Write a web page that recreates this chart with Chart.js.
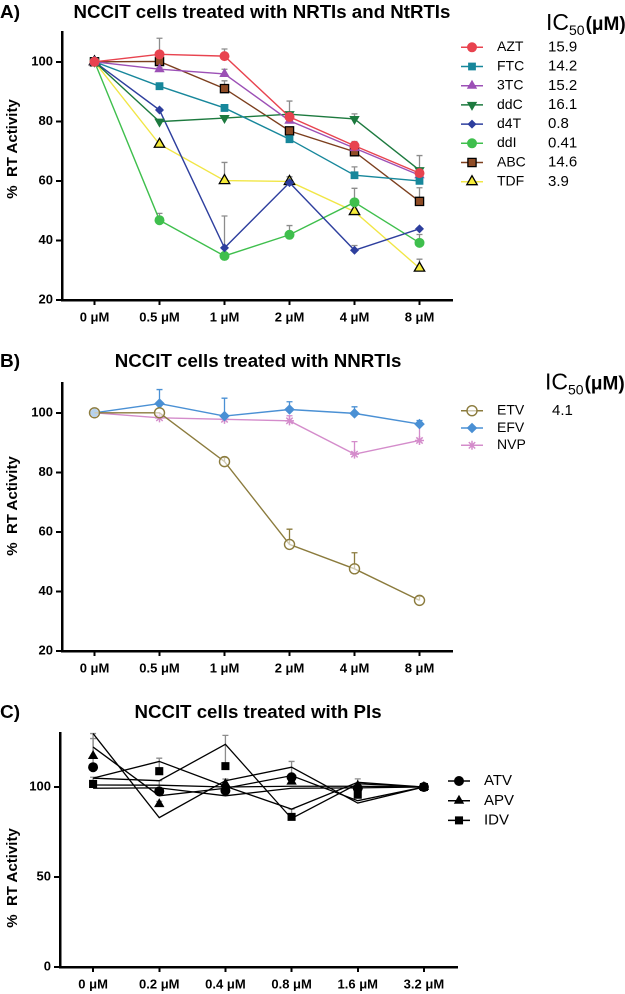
<!DOCTYPE html>
<html>
<head>
<meta charset="utf-8">
<script src="https://cdn.jsdelivr.net/npm/chart.js@4.4.1/dist/chart.umd.min.js"></script>
<style>
  body { margin: 0; background: #fff; }
  #fig { position: relative; width: 625px; height: 994px; font-family: "Liberation Sans", Arial, sans-serif; color: #000; }
  canvas { position: absolute; left: 0; }
  .lbl { position: absolute; white-space: nowrap; font-weight: bold; line-height: 20px; }
  .ttl { transform: translateX(-50%); font-size: 18.7px; }
  .ytl { font-size: 15px; transform: translate(-50%, -50%) rotate(-90deg); }
</style>
</head>
<body>
<div id="fig">
  <canvas id="cA" width="625" height="335" style="top:0"></canvas>
  <canvas id="cB" width="625" height="355" style="top:335px"></canvas>
  <canvas id="cC" width="625" height="304" style="top:690px"></canvas>

  <div class="lbl" style="left:0;top:2px;font-size:19px">A)</div>
  <div class="lbl ttl" style="left:262px;top:2px">NCCIT cells treated with NRTIs and NtRTIs</div>
  <div class="lbl ytl" style="left:12px;top:149px">%&nbsp;&nbsp;RT Activity</div>

  <div class="lbl" style="left:0;top:351px;font-size:19px">B)</div>
  <div class="lbl ttl" style="left:258px;top:351px">NCCIT cells treated with NNRTIs</div>
  <div class="lbl ytl" style="left:12px;top:506px">%&nbsp;&nbsp;RT Activity</div>

  <div class="lbl" style="left:0;top:702px;font-size:19px">C)</div>
  <div class="lbl ttl" style="left:258px;top:702px">NCCIT cells treated with PIs</div>
  <div class="lbl ytl" style="left:12px;top:878px">%&nbsp;&nbsp;RT Activity</div>
</div>

<script>
// panel A: NRTIs / NtRTIs
const concA = ["0 μM", "0.5 μM", "1 μM", "2 μM", "4 μM", "8 μM"];
const aztA = [100, 102.5, 101.9, 81.5, 71.8, 62.6];
const ftcA = [100, 91.8, 84.5, 74.0, 61.9, 60.0];
const tc3A = [100, 97.5, 95.9, 80.2, 71.0, 61.9];
const ddcA = [100, 79.9, 81.1, 82.4, 80.8, 63.6];
const d4tA = [100, 83.8, 37.5, 59.4, 36.7, 43.9];
const ddiA = [100, 46.8, 34.8, 41.9, 52.8, 39.2];
const abcA = [100, 100.1, 91.0, 76.8, 69.8, 53.1];
const tdfA = [100, 72.3, 60.1, 59.8, 49.7, 30.7];
// top of the (upper-only) error bars
const aztErr = [null, 107.9, 104.3, 86.8, 73.2, 63.5];
const ftcErr = [null, 92.5, 85.5, 75.0, 64.7, 61.0];
const tc3Err = [null, 98.0, 97.5, 81.0, 72.0, 63.0];
const ddcErr = [null, 80.5, 81.5, 83.0, 82.5, 68.5];
const d4tErr = [null, 84.3, 48.2, 60.3, 38.3, 44.3];
const ddiErr = [null, 49.1, 35.2, 45.0, 57.5, 42.0];
const abcErr = [null, 100.5, 93.6, 78.0, 71.0, 57.7];
const tdfErr = [null, 72.8, 66.2, 61.4, 50.5, 33.7];
const icA = ["15.9", "14.2", "15.2", "16.1", "0.8", "0.41", "14.6", "3.9"];
const ticksAB = [20, 40, 60, 80, 100];

// panel B: NNRTIs
const concB = ["0 μM", "0.5 μM", "1 μM", "2 μM", "4 μM", "8 μM"];
const etvB = [100, 100, 83.6, 55.8, 47.6, 37.0];
const efvB = [100, 103.1, 98.9, 101.1, 99.8, 96.2];
const nvpB = [100, 98.3, 97.8, 97.3, 86.1, 90.7];
const etvErr = [null, null, 85.0, 60.9, 53.0, 38.4];
const efvErr = [null, 107.8, 104.9, 103.7, 102.0, 97.4];
const nvpErr = [null, null, null, 99.0, 90.3, 96.0];
const icB = ["4.1", "", ""];

// panel C: PIs (means as markers, replicate traces as lines)
const concC = ["0 μM", "0.2 μM", "0.4 μM", "0.8 μM", "1.6 μM", "3.2 μM"];
const atvC = [111.0, 97.6, 98.0, 105.4, 99.3, 100];
const apvC = [117.2, 90.5, 101.7, 103.0, 100.7, 100];
const idvC = [101.7, 108.8, 111.6, 83.4, 95.7, 100];
const atvErr = [126.9, 103.5, 100.0, 114.2, 104.5, null];
const apvErr = [129.7, 92.0, 104.4, 107.0, 102.0, null];
const idvErr = [105.4, 116.0, 128.7, 87.7, 97.0, null];
const rep1C = [129.7, 83.0, 103.5, 111.0, 91.1, 100];
const rep2C = [122.2, 95.1, 99.3, 106.3, 92.4, 100];
const rep3C = [104.9, 114.2, 100.4, 87.7, 102.6, 100];
const rep4C = [104.9, 103.5, 123.7, 82.5, 101.8, 100];
const rep5C = [101.1, 101.0, 100.0, 100.4, 100.4, 100];
const rep6C = [99.3, 99.5, 95.1, 99.3, 99.5, 100];
const ticksC = [0, 50, 100];

Chart.defaults.font.family = '"Liberation Sans", Arial, sans-serif';
Chart.defaults.color = "#000";
Chart.defaults.animation = false;

const errorBars = {
  id: "errorBars",
  beforeDatasetsDraw(chart) {
    const ctx = chart.ctx;
    const y = chart.scales.y;
    chart.data.datasets.forEach((ds, i) => {
      if (!ds.errTop) return;
      const meta = chart.getDatasetMeta(i);
      ctx.save();
      ctx.strokeStyle = ds.errColor || "#8c8c8c";
      ctx.lineWidth = 1.3;
      meta.data.forEach((pt, j) => {
        const top = ds.errTop[j];
        if (top == null || top <= ds.data[j]) return;
        const yt = y.getPixelForValue(top);
        ctx.beginPath();
        ctx.moveTo(pt.x, pt.y);
        ctx.lineTo(pt.x, yt);
        ctx.moveTo(pt.x - 3, yt);
        ctx.lineTo(pt.x + 3, yt);
        ctx.stroke();
      });
      ctx.restore();
    });
  },
};

const sideLegend = {
  id: "sideLegend",
  afterDraw(chart, args, opts) {
    const ctx = chart.ctx;
    const font = '"Liberation Sans", Arial, sans-serif';
    opts.rows.forEach((idx, k) => {
      const ds = chart.data.datasets[idx];
      const y = opts.y + k * opts.step;
      ctx.save();
      ctx.strokeStyle = ds.borderColor;
      ctx.lineWidth = 1.5;
      ctx.beginPath();
      ctx.moveTo(opts.x - 11, y);
      ctx.lineTo(opts.x + 11, y);
      ctx.stroke();
      ctx.fillStyle = ds.pointBackgroundColor;
      ctx.strokeStyle = ds.pointBorderColor || ds.borderColor;
      ctx.lineWidth = ds.pointBorderWidth || 1;
      Chart.helpers.drawPoint(ctx, {
        pointStyle: ds.pointStyle,
        radius: ds.pointRadius,
        rotation: ds.pointRotation || 0,
        borderWidth: ds.pointBorderWidth || 1,
      }, opts.x, y);
      ctx.fillStyle = "#000";
      ctx.textBaseline = "middle";
      ctx.font = opts.size + "px " + font;
      ctx.fillText(ds.label, opts.x + 25, y);
      if (opts.ic && opts.ic[k]) {
        ctx.font = (opts.size + 1) + "px " + font;
        ctx.fillText(opts.ic[k], opts.icX, y);
      }
      ctx.restore();
    });
    if (opts.head) {
      const h = opts.head;
      ctx.save();
      ctx.fillStyle = "#000";
      ctx.textBaseline = "alphabetic";
      ctx.font = "23px " + font;
      ctx.fillText("IC", h.x, h.y + 8);
      let w = ctx.measureText("IC").width;
      ctx.font = "14px " + font;
      ctx.fillText("50", h.x + w, h.y + 13);
      w += ctx.measureText("50").width + 1;
      ctx.font = "bold 19px " + font;
      ctx.fillText("(μM)", h.x + w, h.y + 8);
      ctx.restore();
    }
  },
};

function axes(labels, ymin, ymax, ticks, yWidth, xHeight) {
  return {
    x: {
      type: "category",
      labels: labels,
      offset: true,
      grid: { display: true, drawOnChartArea: false, drawTicks: true, tickLength: 5, color: "#000", lineWidth: 2 },
      border: { display: true, color: "#000", width: 2.5 },
      ticks: { font: { size: 13, weight: "bold" }, padding: 5, maxRotation: 0, autoSkip: false },
      afterFit: (s) => { s.height = xHeight; },
    },
    y: {
      min: ymin,
      max: ymax,
      afterBuildTicks: (s) => { s.ticks = ticks.map((v) => ({ value: v })); },
      grid: { display: true, drawOnChartArea: false, drawTicks: true, tickLength: 6, color: "#000", lineWidth: 2 },
      border: { display: true, color: "#000", width: 2.5 },
      ticks: { font: { size: 13, weight: "bold" }, padding: 3 },
      afterFit: (s) => { s.width = yWidth; },
    },
  };
}

function series(label, data, err, color, style, radius, extra) {
  return Object.assign({
    label: label,
    data: data,
    errTop: err,
    borderColor: color,
    backgroundColor: color,
    pointBackgroundColor: color,
    pointBorderColor: color,
    borderWidth: 1.4,
    pointStyle: style,
    pointRadius: radius,
    pointHoverRadius: radius,
    pointBorderWidth: 1,
    tension: 0,
    clip: false,
  }, extra || {});
}

const common = {
  responsive: false,
  devicePixelRatio: 2,
  events: [],
};

new Chart(document.getElementById("cA"), {
  type: "line",
  data: {
    labels: concA,
    datasets: [
      series("AZT", aztA, aztErr, "#e8434f", "circle", 4.5),
      series("FTC", ftcA, ftcErr, "#17879b", "rect", 4.8),
      series("3TC", tc3A, tc3Err, "#9c50b6", "triangle", 5),
      series("ddC", ddcA, ddcErr, "#1d7a3f", "triangle", 5, { pointRotation: 180 }),
      series("d4T", d4tA, d4tErr, "#2e3f9e", "rectRot", 3.8),
      series("ddI", ddiA, ddiErr, "#3fbf4d", "circle", 4.5),
      series("ABC", abcA, abcErr, "#7c3f1e", "rect", 5.8, { pointBackgroundColor: "#8f4c26", pointBorderColor: "#000", pointBorderWidth: 1.3 }),
      series("TDF", tdfA, tdfErr, "#f1e646", "triangle", 6, { pointBackgroundColor: "#f6ec3a", pointBorderColor: "#000", pointBorderWidth: 1.3 }),
    ],
  },
  options: Object.assign({}, common, {
    layout: { padding: { left: 0, top: 32, right: 173, bottom: 0 } },
    scales: axes(concA, 20, 110, ticksAB, 62, 35),
    plugins: {
      legend: { display: false },
      tooltip: { enabled: false },
      sideLegend: { rows: [0, 1, 2, 3, 4, 5, 6, 7], x: 472, y: 47.3, step: 19.2, size: 14, ic: icA, icX: 548, head: { x: 546, y: 22 } },
    },
  }),
  plugins: [errorBars, sideLegend],
});

new Chart(document.getElementById("cB"), {
  type: "line",
  data: {
    labels: concB,
    datasets: [
      series("ETV", etvB, etvErr, "#8b7b3d", "circle", 5, { pointBackgroundColor: "rgba(255,255,255,0.6)", pointBorderWidth: 1.4, errColor: "#8b7b3d" }),
      series("EFV", efvB, efvErr, "#4a90d4", "rectRot", 4.6, { errColor: "#4a90d4" }),
      series("NVP", nvpB, nvpErr, "#d48ccb", "star", 4.5, { pointBorderWidth: 1.5, errColor: "#d48ccb" }),
    ],
  },
  options: Object.assign({}, common, {
    layout: { padding: { left: 0, top: 48, right: 173, bottom: 0 } },
    scales: axes(concB, 20, 110, ticksAB, 62, 39),
    plugins: {
      legend: { display: false },
      tooltip: { enabled: false },
      sideLegend: { rows: [0, 1, 2], x: 472, y: 410.7 - 335, step: 17.3, size: 14, ic: icB, icX: 552, head: { x: 545, y: 381.7 - 335 } },
    },
  }),
  plugins: [errorBars, sideLegend],
});

const repLine = (d) => ({ label: "", data: d, borderColor: "#000", borderWidth: 1.3, pointRadius: 0, tension: 0, clip: false });

new Chart(document.getElementById("cC"), {
  type: "line",
  data: {
    labels: concC,
    datasets: [
      series("ATV", atvC, atvErr, "#000", "circle", 4.5, { showLine: false }),
      series("APV", apvC, apvErr, "#000", "triangle", 5, { showLine: false }),
      series("IDV", idvC, idvErr, "#000", "rect", 5, { showLine: false }),
      repLine(rep1C),
      repLine(rep2C),
      repLine(rep3C),
      repLine(rep4C),
      repLine(rep5C),
      repLine(rep6C),
    ],
  },
  options: Object.assign({}, common, {
    layout: { padding: { left: 0, top: 43, right: 168, bottom: 0 } },
    scales: axes(concC, 0, 130, ticksC, 60, 27),
    plugins: {
      legend: { display: false },
      tooltip: { enabled: false },
      sideLegend: { rows: [0, 1, 2], x: 459, y: 781 - 690, step: 19.7, size: 15 },
    },
  }),
  plugins: [errorBars, sideLegend],
});
</script>
</body>
</html>
